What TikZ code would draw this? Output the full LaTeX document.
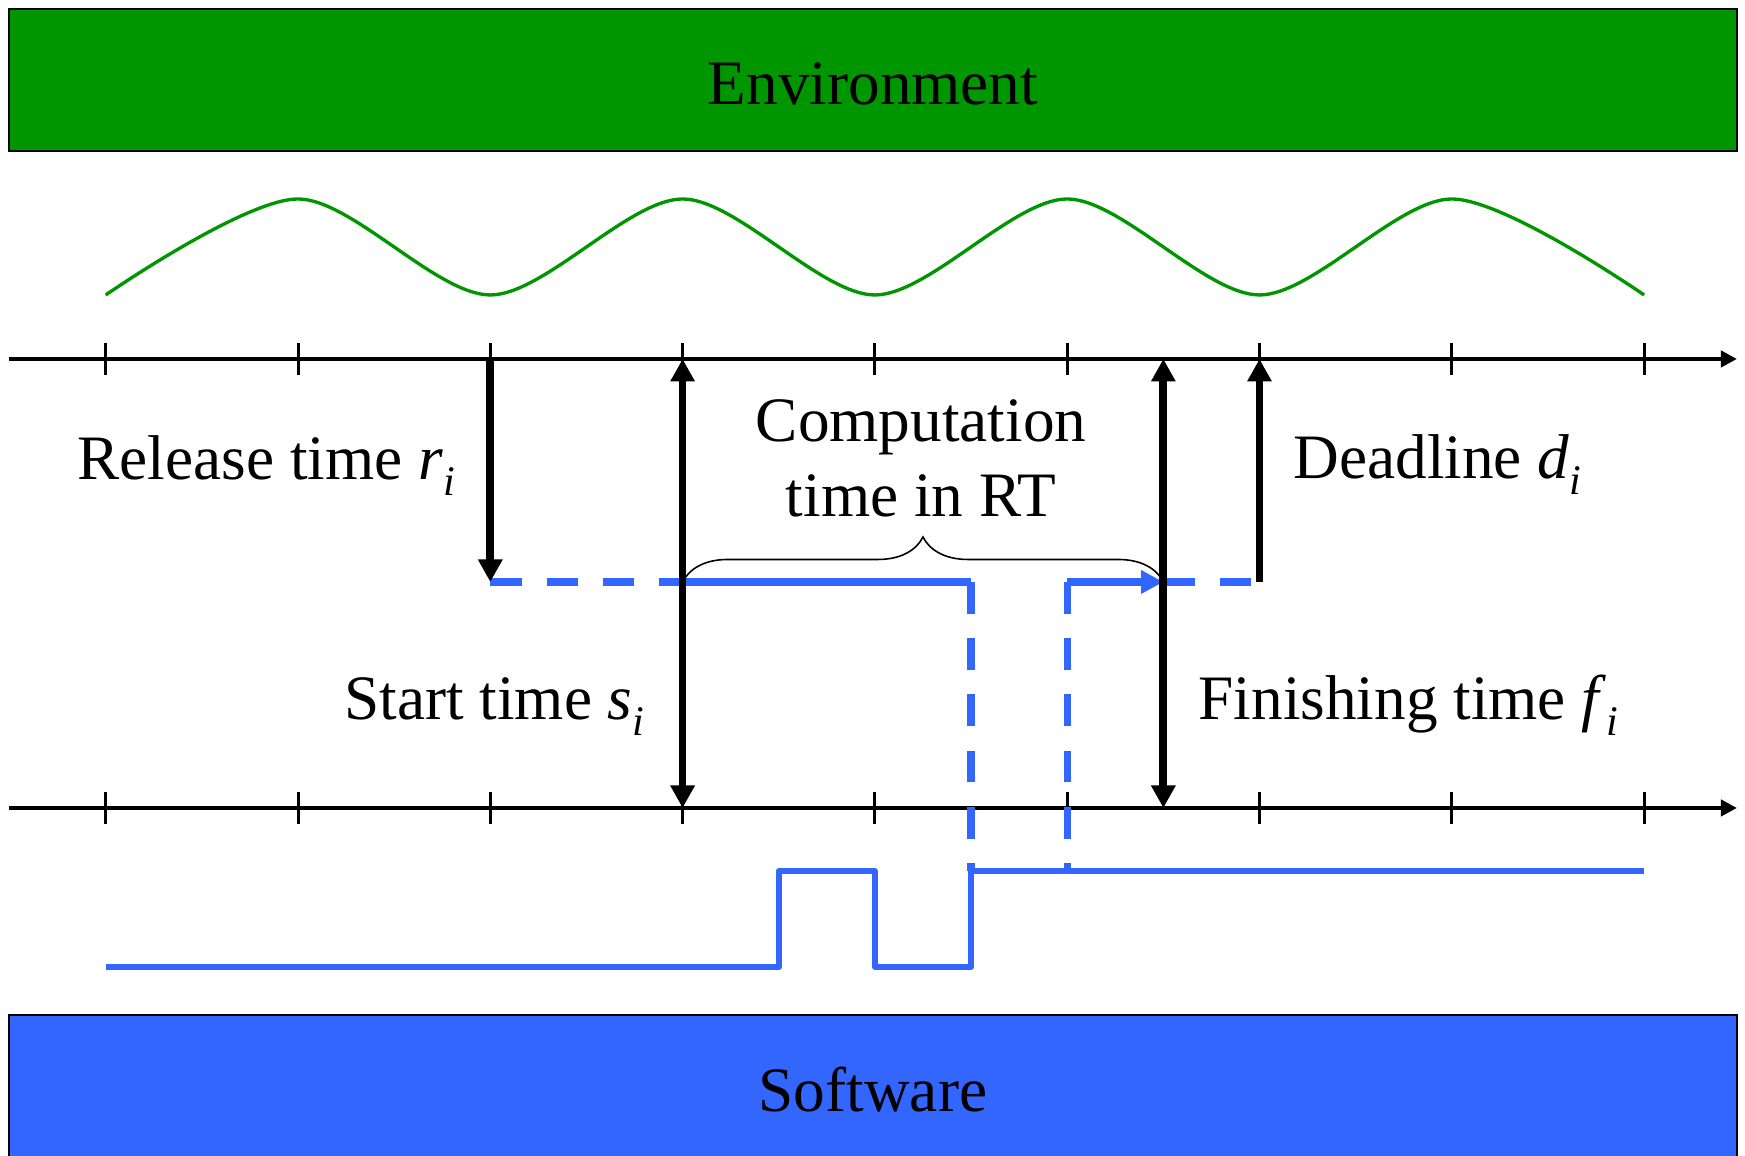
\documentclass[tikz,border=0pt]{standalone}
\usepackage{fontspec}
\setmainfont{Liberation Serif}
\usetikzlibrary{arrows.meta,decorations.pathreplacing}
\definecolor{envgreen}{RGB}{0,150,0}
\definecolor{swblue}{RGB}{51,102,255}
\newcommand{\tvar}[2]{\textit{#1}\raisebox{-4.3pt}{\fontsize{12}{12}\selectfont\textit{#2}}}

\begin{document}
\begin{tikzpicture}[x=1.923cm, y=1cm, >={Triangle[length=6.4pt,width=6.6pt]},
    font=\fontsize{18}{21.6}\selectfont,
    band/.style={draw, line width=0.8pt, minimum width=17.28cm, inner sep=0pt},
    axisline/.style={line width=1.25pt, -{Triangle[length=4.6pt,width=4.6pt]}},
    tickmark/.style={line width=0.85pt},
    evt/.style={line width=2.2pt},
    job/.style={swblue, line width=2.1pt},
    jobdash/.style={job, dash pattern=on 9pt off 7pt},
    lbl/.style={inner sep=0pt}]
    \useasboundingbox (-0.5497, 0) rectangle (8.5247, 11.56);
    \node[band, fill=envgreen, minimum height=1.42cm, text height=0.5cm] (env) at (3.99, 10.76) {Environment};
    \node[band, fill=swblue, minimum height=1.43cm, text height=0.5cm] (sw) at (3.99, 0.695) {Software};
    \draw[envgreen, line width=0.95pt] plot[smooth] coordinates {(0, 8.61) (1, 9.57) (2, 8.61) (3, 9.57) (4, 8.61) (5, 9.57) (6, 8.61) (7, 9.57) (8, 8.61)};
    \foreach \k in {0, 1, ..., 8} {
        \coordinate (t\k) at (\k, 7.97);
        \coordinate (b\k) at (\k, 3.48);
        \draw[tickmark] (\k, 7.81) -- (\k, 8.13);
        \draw[tickmark] (\k, 3.32) -- (\k, 3.64);
    };
    \draw[axisline] (-0.503, 7.97) -- (8.483, 7.97);
    \draw[axisline] (-0.503, 3.48) -- (8.483, 3.48);
    \coordinate (rel) at (2, 5.74);
    \coordinate (st) at (3, 5.74);
    \coordinate (pre) at (4.5, 5.74);
    \coordinate (res) at (5, 5.74);
    \coordinate (fin) at (5.5, 5.74);
    \coordinate (dl) at (6, 5.74);
    \coordinate (fin-top) at (5.5, 7.97);
    \coordinate (fin-bot) at (5.5, 3.48);
    \coordinate (sw-up) at (4.5, 2.85);
    \coordinate (sw-hold) at (5, 2.85);
    \draw[swblue, line width=1.6pt, line join=round] (0, 1.89) -| (3.5, 2.85) -| (4, 1.89) -| (sw-up) -- (8, 2.85);
    \draw[jobdash] (rel) -- (st);
    \draw[job] (st) -- (pre);
    \draw[jobdash] (pre) -- (sw-up);
    \draw[jobdash] (res) -- (sw-hold);
    \draw[job, -{Triangle[length=6.3pt,width=6.3pt]}] (res) -- (fin);
    \draw[jobdash] (fin) -- (dl);
    \draw[line width=0.45pt, decorate, decoration={brace, amplitude=12.8pt}] (st) -- (fin);
    \draw[evt, ->] (t2) -- (rel);
    \draw[evt, <->] (t3) -- (b3);
    \draw[evt, <->] (fin-top) -- (fin-bot);
    \draw[evt, ->] (dl) -- (t6);
    \node[lbl, align=center, anchor=base] (comp) at (4.24, 6.39) {Computation\\time in RT};
    \node[lbl, anchor=base east] (rel-lbl) at (1.82, 6.76) {Release time \tvar{r}{i}};
    \node[lbl, anchor=base west] (dl-lbl) at (6.174, 6.77) {Deadline \tvar{d}{i}};
    \node[lbl, anchor=base east] (st-lbl) at (2.804, 4.36) {Start time \tvar{s}{i}};
    \node[lbl, anchor=base west] (fin-lbl) at (5.68, 4.36) {Finishing time \tvar{f}{i}};
\end{tikzpicture}
\end{document}
